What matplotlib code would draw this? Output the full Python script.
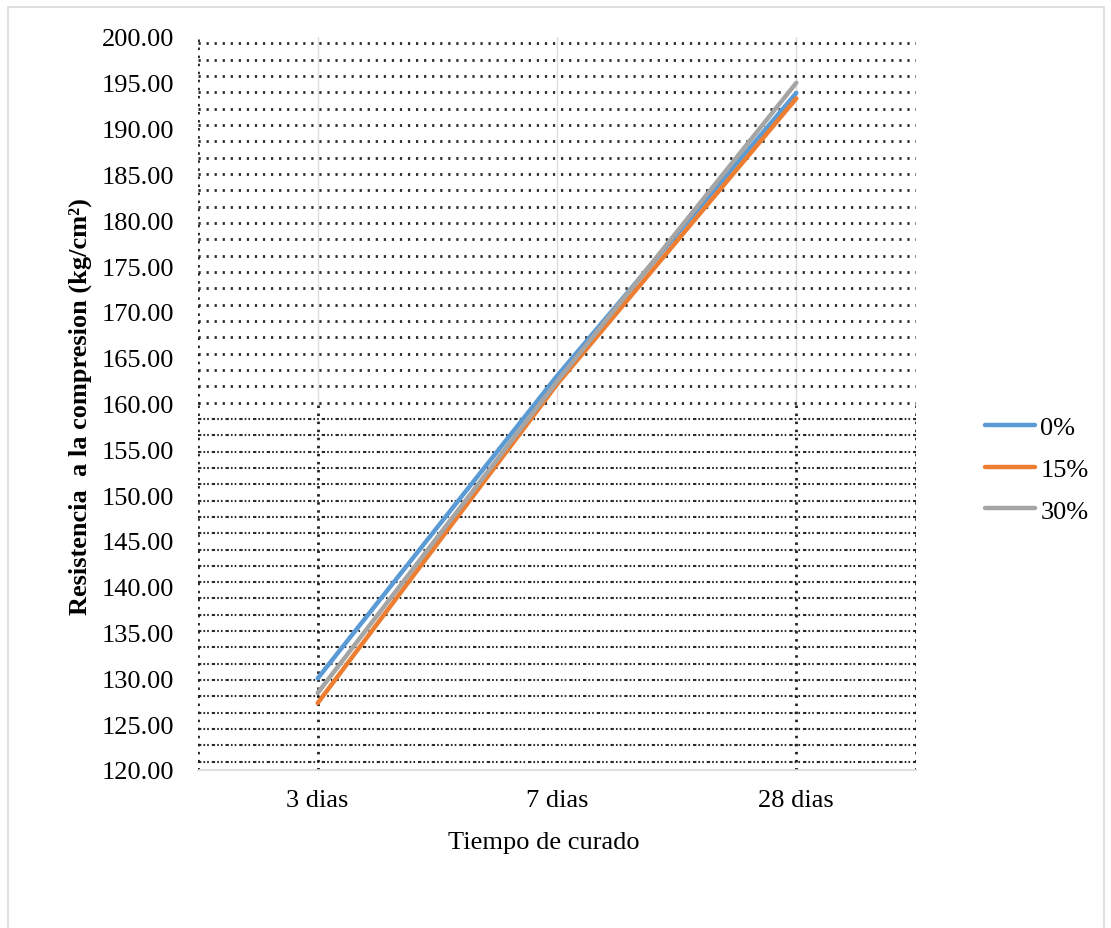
import numpy as np
import matplotlib
matplotlib.use("Agg")
import matplotlib.pyplot as plt
from matplotlib.patches import Rectangle

plt.rcParams['font.family'] = ['Liberation Serif', 'DejaVu Serif']

dias = ["3 dias", "7 dias", "28 dias"]
serie_0 = [130.0, 163.0, 193.9]
serie_15 = [127.3, 162.1, 193.3]
serie_30 = [128.4, 162.4, 195.0]
etiquetas = ["0%", "15%", "30%"]
colores = ["#5B9BD5", "#ED7D31", "#A5A5A5"]

W, H = 1111, 929
fig = plt.figure(figsize=(W / 100, H / 100), dpi=100)
ax = fig.add_axes([198 / W, 1 - 771 / H, (916 - 198) / W, (771 - 38) / H])

# marco exterior gris claro
fig.patches.append(Rectangle((8 / W, -0.02), (1104 - 8) / W, 1 - 8 / H + 0.02,
                             transform=fig.transFigure, fill=False,
                             edgecolor="#D9D9D9", lw=1.2, zorder=0))

x = np.arange(len(dias))
ax.set_xlim(-0.5, 2.5)
ax.set_ylim(120, 200)

# rejilla punteada (estilo escaneado)
for yy in np.linspace(120.9, 199.3, 45):
    if yy > 160:
        ax.axhline(yy, color="#2a2a2a", lw=2.0, ls=(0, (0.8, 2.1)), zorder=1)
    else:
        ax.axhline(yy, color="#2a2a2a", lw=1.5, ls=(0, (1.6, 1.0, 0.8, 1.0, 0.8, 1.4)), zorder=1)
for xx in [-0.5, 0, 2, 2.5]:
    ax.plot([xx, xx], [120, 160], color="#222222", lw=2.0, ls=(0, (0.9, 2.0)), zorder=1)
ax.plot([-0.5, -0.5], [160, 200], color="#222222", lw=2.0, ls=(0, (0.9, 2.0)), zorder=1)
for xx in [0, 1, 2]:
    ax.plot([xx, xx], [160, 200], color="#DDDDDD", lw=1.0, zorder=0.5)

for ys, lab, col in zip([serie_0, serie_15, serie_30], etiquetas, colores):
    ax.plot(x, ys, color=col, lw=3.2, solid_capstyle="round", label=lab, zorder=3)

ax.set_xticks(x)
ax.set_xticklabels(dias)
ax.set_yticks(np.arange(120, 201, 5))
ax.set_yticklabels([f"{v:.2f}" for v in np.arange(120, 201, 5)])
ax.tick_params(axis="both", length=0, labelsize=19)
ax.tick_params(axis="y", pad=17)
ax.tick_params(axis="x", pad=14)

for s in ["top", "right", "left"]:
    ax.spines[s].set_visible(False)
ax.spines["bottom"].set_color("#D9D9D9")
ax.spines["bottom"].set_linewidth(1.2)

ax.set_xlabel("Tiempo de curado", fontsize=19)
ax.xaxis.set_label_coords(0.482, -0.098)
ax.xaxis.label.set_va("center")
ax.set_ylabel("Resistencia  a la compresion (kg/cm²)", fontsize=19, fontweight="bold")
ax.yaxis.set_label_coords(-0.164, 0.497)
ax.yaxis.label.set_va("center")

fig.legend(loc="center left", bbox_to_anchor=(985 / W, 1 - 470 / H), frameon=False,
           fontsize=19, handlelength=1.9, handletextpad=0.2, borderpad=0,
           borderaxespad=0, labelspacing=0.7)

fig.savefig("out.png", dpi=100, facecolor="white")
